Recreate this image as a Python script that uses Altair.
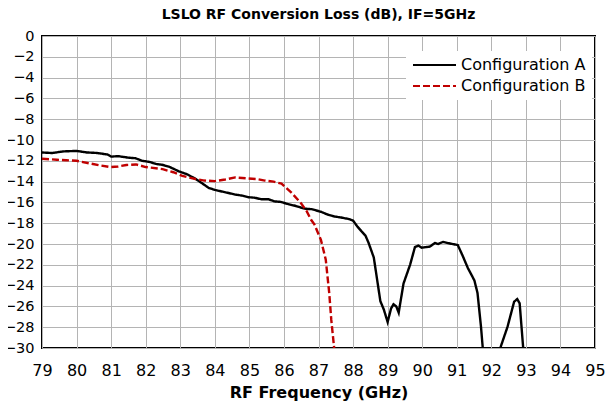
import altair as alt
import pandas as pd

# Configuration A (black solid)
freq_a = [79.0, 79.3, 79.6, 80.0, 80.3, 80.6, 80.9, 81.0, 81.2, 81.5, 81.7, 81.9, 82.1, 82.3, 82.5,
          82.7, 82.95, 83.2, 83.45, 83.65, 83.82, 84.0, 84.2, 84.4, 84.59, 84.8, 84.97, 85.15, 85.35,
          85.55, 85.73, 85.9, 86.11, 86.35, 86.59, 86.8, 87.07, 87.25, 87.45, 87.65, 87.88, 88.0,
          88.12, 88.25, 88.36, 88.45, 88.6, 88.79, 88.89, 89.0, 89.1, 89.17, 89.25, 89.32, 89.46,
          89.65, 89.79, 89.89, 89.98, 90.1, 90.22, 90.37, 90.46, 90.6, 90.8, 91.03, 91.18, 91.32,
          91.51, 91.6, 91.7, 91.75, 91.8, 92.22, 92.27, 92.47, 92.66, 92.75, 92.82, 92.92, 92.97]
loss_a = [-11.2, -11.25, -11.1, -11.05, -11.2, -11.25, -11.4, -11.6, -11.55, -11.7, -11.75, -12.0,
          -12.1, -12.3, -12.4, -12.6, -13.0, -13.3, -13.75, -14.2, -14.6, -14.8, -14.95, -15.1,
          -15.25, -15.35, -15.5, -15.55, -15.7, -15.7, -15.9, -15.95, -16.15, -16.35, -16.6,
          -16.65, -16.9, -17.15, -17.35, -17.45, -17.6, -17.75, -18.3, -18.8, -19.2, -19.9, -21.3,
          -25.5, -26.3, -27.5, -26.2, -25.8, -26.0, -26.6, -23.8, -22.0, -20.3, -20.15, -20.35,
          -20.3, -20.25, -19.9, -20.0, -19.8, -19.95, -20.1, -21.2, -22.3, -23.5, -24.7, -27.9,
          -29.9, -33.0, -33.0, -29.9, -27.95, -25.55, -25.3, -25.7, -29.9, -33.0]

# Configuration B (red dashed)
freq_b = [79.0, 79.43, 79.7, 80.0, 80.38, 80.7, 80.96, 81.2, 81.44, 81.72, 82.0, 82.49, 82.8,
          83.06, 83.44, 83.7, 84.0, 84.3, 84.59, 84.97, 85.2, 85.45, 85.7, 85.93, 86.2, 86.5,
          86.65, 86.79, 86.88, 87.07, 87.21, 87.31, 87.37, 87.45, 87.5]
loss_b = [-11.8, -11.9, -11.95, -12.0, -12.25, -12.45, -12.6, -12.55, -12.4, -12.35, -12.6,
          -12.8, -13.1, -13.45, -13.75, -13.9, -13.95, -13.8, -13.6, -13.7, -13.75, -13.9, -14.0,
          -14.2, -15.0, -16.1, -16.8, -17.7, -18.1, -19.6, -21.5, -24.7, -27.3, -29.9, -31.5]

series_names = ["Configuration A", "Configuration B"]
series_colors = ["#000000", "#c00000"]

x_ticks = list(range(79, 96))
y_ticks = list(range(-30, 1, 2))

df = pd.concat([
    pd.DataFrame({"freq": freq_a, "loss": loss_a, "series": series_names[0], "order": range(len(freq_a))}),
    pd.DataFrame({"freq": freq_b, "loss": loss_b, "series": series_names[1], "order": range(len(freq_b))}),
])

chart = alt.Chart(df).mark_line(strokeWidth=2.4, clip=True).encode(
    x=alt.X("freq:Q", scale=alt.Scale(domain=[79, 95], nice=False),
            axis=alt.Axis(values=x_ticks, title="RF Frequency (GHz)", format="d",
                          grid=True, ticks=False, domain=False, labelPadding=14,
                          labelFlush=False, titlePadding=6)),
    y=alt.Y("loss:Q", scale=alt.Scale(domain=[-30, 0], nice=False),
            axis=alt.Axis(values=y_ticks, title=None, format="d", labelFlush=False,
                          labelFontSize=14.5,
                          grid=True, ticks=False, domain=False, labelPadding=8)),
    color=alt.Color("series:N", scale=alt.Scale(domain=series_names, range=series_colors),
                    legend=alt.Legend(title=None, orient="none", legendX=364, legendY=15,
                                      fillColor="white", padding=6, symbolType="stroke",
                                      symbolSize=1849, symbolStrokeWidth=2, rowPadding=5,
                                      clipHeight=16,
                                      labelFontSize=16, labelFont="DejaVu Sans",
                                      labelColor="black", labelOffset=4)),
    strokeDash=alt.StrokeDash("series:N", scale=alt.Scale(domain=series_names, range=[[1, 0], [7, 3]]),
                              legend=None),
    order="order:Q",
).properties(
    width=553, height=312,
    title=alt.Title("LSLO RF Conversion Loss (dB), IF=5GHz", fontSize=14, font="DejaVu Sans",
                    fontWeight="bold", anchor="middle", offset=6, color="black"),
    autosize=alt.AutoSizeParams(type="none"),
    padding={"left": 34, "top": 28, "right": 12, "bottom": 54},
).configure_axis(
    labelFont="DejaVu Sans", labelFontSize=16, labelColor="black",
    titleFont="DejaVu Sans", titleFontSize=16, titleFontWeight="bold", titleColor="black",
    gridColor="#b4b4b4", gridWidth=1, gridOpacity=1,
).configure_view(
    stroke="black", strokeWidth=2,
)

chart.save("out.html", embed_options={"renderer": "svg", "actions": False})
